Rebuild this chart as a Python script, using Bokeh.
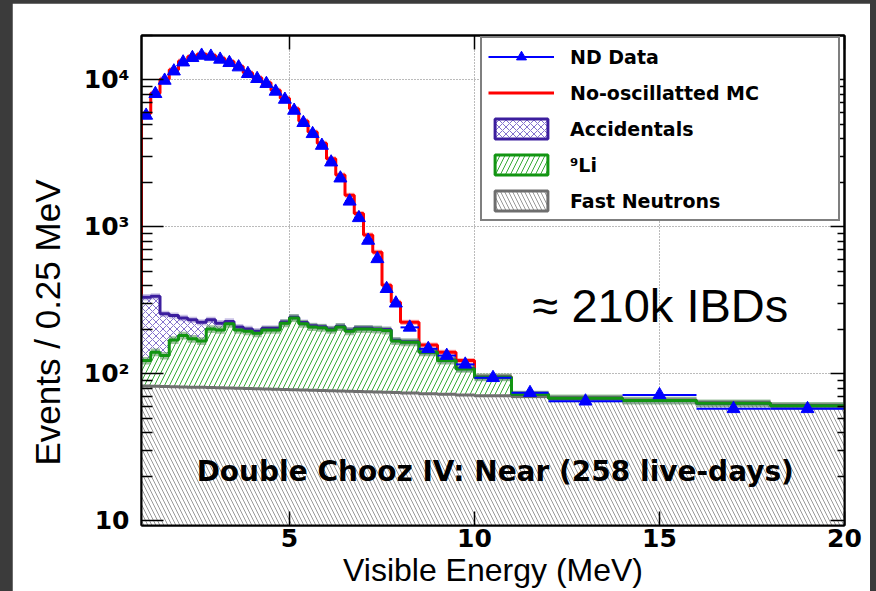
import numpy as np
from bokeh.plotting import figure
from bokeh.models import (FixedTicker, LogAxis, LinearAxis, Legend, LegendItem, Label, Title)
from bokeh.layouts import column
from bokeh.embed import file_html
from bokeh.resources import INLINE

# ---------------- data ----------------
bin_edges = [1.0, 1.25, 1.5, 1.75, 2.0, 2.25, 2.5, 2.75, 3.0, 3.25, 3.5, 3.75, 4.0,
             4.25, 4.5, 4.75, 5.0, 5.25, 5.5, 5.75, 6.0, 6.25, 6.5, 6.75, 7.0, 7.25,
             7.5, 7.75, 8.0, 8.5, 9.0, 9.5, 10.0, 11.0, 12.0, 14.0, 16.0, 18.0, 20.0]

nd_data = [5720, 8030, 9890, 11440, 13170, 14110, 14630, 14410, 13750, 13050,
           12190, 10990, 10160, 9400, 8330, 7340, 6180, 5100, 4290, 3570,
           2750, 2140, 1490, 1150, 807, 605, 379, 302,
           207, 148, 133, 116, 94, 74.3, 65.1, 71.9, 57.8, 57.8]

mc_noosc = [5900, 8100, 10100, 11700, 13400, 14400, 14900, 14700, 14000, 13300,
            12300, 11150, 10300, 9550, 8500, 7500, 6350, 5250, 4420, 3700,
            2900, 2250, 1640, 1230, 880, 670, 400, 307,
            224, 157, 140, 123, 95, 72.7, 68.2, 65.8, 63.1, 60.6]

fast_neutrons = [82.5, 82.2, 82.0, 81.7, 81.4, 81.2, 80.9, 80.6, 80.3, 80.0,
                 79.7, 79.4, 79.1, 78.8, 78.5, 78.2, 77.9, 77.6, 77.3, 77.0,
                 76.7, 76.4, 76.1, 75.8, 75.5, 75.2, 74.9, 74.6,
                 74.0, 73.3, 72.5, 71.8, 71.0, 70.2, 68.2, 65.8, 63.1, 60.6]

li9 = [40.5, 57.8, 51.0, 88.3, 100.6, 91.8, 86.1, 121.4, 118.7, 139.0,
       119.3, 115.6, 109.9, 120.2, 120.5, 142.8, 162.1, 141.4, 130.7, 129.0,
       122.3, 131.6, 118.9, 126.2, 126.5, 124.8, 122.1, 92.4,
       90.0, 66.7, 50.5, 36.2, 23.8, 2.3, 0.0, 0.0, 0.0, 0.0]

accidentals = [209, 197, 123, 79, 58, 60, 57, 31, 22, 8,
               9, 7, 6, 5, 5, 4, 3, 4, 4, 3,
               3, 3, 3, 3, 3, 2, 3, 2,
               1.5, 1, 1, 0.5, 0, 0, 0, 0, 0, 0]

mc_rel_err = 0.04
li_rel_err = 0.06
acc_rel_err = 0.05

x_major_ticks = [5, 10, 15, 20]
y_major_ticks = [10, 100, 1000, 10000]
y_tick_labels = ["10", "10²", "10³", "10⁴"]

x_title = "Visible Energy (MeV)"
y_title = "Events / 0.25 MeV"
legend_labels = ["ND Data", "No-oscillatted MC", "Accidentals", "⁹Li", "Fast Neutrons"]

# ---------------- derived ----------------
edges = np.array(bin_edges)
lo, hi = edges[:-1], edges[1:]
ctr = 0.5 * (lo + hi)
data = np.array(nd_data, dtype=float)
mc = np.array(mc_noosc, dtype=float)
fn = np.array(fast_neutrons, dtype=float)
li_top = fn + np.array(li9, dtype=float)
acc_top = li_top + np.array(accidentals, dtype=float)
FLOOR = 1.0

def stepy(v):
    return np.append(v, v[-1])

RED = "#ff0000"
BLUE = "#0000ff"
GREEN = "#129512"
PURPLE = "#3c1e9e"
GRAY = "#6e6e6e"
FN_HATCH = "#999999"
LI_HATCH = "#33aa33"
ACC_HATCH = "#8472cc"

p = figure(width=858, height=588, x_range=(1, 20), y_range=(9.3, 2.0e4),
           y_axis_type="log", output_backend="svg", toolbar_location=None,
           min_border_left=128, min_border_right=26, min_border_top=32,
           min_border_bottom=66, background_fill_color="white",
           border_fill_color="white")
p.margin = (3, 6, 0, 12)
p.outline_line_color = "black"
p.outline_line_width = 2

# axes
minor_y = [m * 10 ** k for k in range(1, 5) for m in range(2, 10)]
p.xaxis.ticker = FixedTicker(ticks=x_major_ticks, minor_ticks=[])
p.yaxis.ticker = FixedTicker(ticks=y_major_ticks, minor_ticks=minor_y)
p.yaxis.major_label_overrides = dict(zip(y_major_ticks, y_tick_labels))
for ax in (p.xaxis[0], p.yaxis[0]):
    ax.major_label_text_font = "DejaVu Sans"
    ax.major_label_text_font_style = "bold"
    ax.major_label_text_font_size = "25px"
    ax.major_label_text_color = "black"
    ax.axis_line_width = 2
    ax.major_tick_out = 0
    ax.minor_tick_out = 0
    ax.major_tick_line_color = "black"
    ax.minor_tick_line_color = "black"
    ax.major_tick_line_width = 1.5
    ax.minor_tick_line_width = 1.5
p.xaxis.major_tick_in = 14
p.xaxis.major_label_standoff = 3
p.yaxis.major_tick_in = 22
p.yaxis.minor_tick_in = 11
p.yaxis.major_label_standoff = 12

# mirrored tick marks on the right and top (no labels)
right_ax = LogAxis(ticker=FixedTicker(ticks=y_major_ticks, minor_ticks=minor_y),
                   major_label_text_font_size="1px", major_label_text_alpha=0.0,
                   major_label_standoff=0,
                   major_tick_in=14, major_tick_out=0,
                   minor_tick_in=7, minor_tick_out=0, axis_line_width=2,
                   major_tick_line_width=1.5, minor_tick_line_width=1.5)
p.add_layout(right_ax, "right")
top_ax = LinearAxis(ticker=FixedTicker(ticks=x_major_ticks, minor_ticks=[]),
                    major_label_text_font_size="1px", major_label_text_alpha=0.0,
                    major_label_standoff=0,
                    major_tick_in=14, major_tick_out=0,
                    axis_line_width=2, major_tick_line_width=1.5)
p.add_layout(top_ax, "above")

# axis titles
p.add_layout(Title(text=x_title, align="center", text_font="Liberation Sans",
                   text_font_style="normal", text_font_size="32px", text_color="black",
                   standoff=0), "below")
p.add_layout(Title(text=y_title, align="left", text_font="Liberation Sans",
                   text_font_style="normal", text_font_size="35px", text_color="black",
                   standoff=27, offset=60), "left")

p.xgrid.ticker = FixedTicker(ticks=x_major_ticks[:-1])
p.ygrid.ticker = FixedTicker(ticks=y_major_ticks)
for g in (p.xgrid[0], p.ygrid[0]):
    g.grid_line_color = "#777777"
    g.grid_line_dash = "1 2"
    g.grid_line_width = 1

# MC band and line (under the backgrounds)
p.varea_step(x=edges, y1=stepy(mc * (1 - mc_rel_err)), y2=stepy(mc * (1 + mc_rel_err)),
             step_mode="after", fill_color="#ff7070", fill_alpha=0.55)
mc_line = p.step(x=np.concatenate([[edges[0]], edges]),
                 y=np.concatenate([[FLOOR], mc, [mc[-1]]]),
                 mode="after", line_color=RED, line_width=3)

# stacked backgrounds
p.varea_step(x=edges, y1=np.full(len(edges), FLOOR), y2=stepy(fn), step_mode="after",
             fill_color="white", hatch_pattern="left_diagonal_line", hatch_color=FN_HATCH,
             hatch_scale=8, hatch_weight=1)
p.varea_step(x=edges, y1=stepy(fn), y2=stepy(li_top), step_mode="after",
             fill_color="white", hatch_pattern="right_diagonal_line", hatch_color=LI_HATCH,
             hatch_scale=10, hatch_weight=1)
p.varea_step(x=edges, y1=stepy(li_top), y2=stepy(acc_top), step_mode="after",
             fill_color="white", hatch_pattern="diagonal_cross", hatch_color=ACC_HATCH,
             hatch_scale=7, hatch_weight=1)

# uncertainty bands
p.varea_step(x=edges, y1=stepy(acc_top * (1 - acc_rel_err)), y2=stepy(acc_top * (1 + acc_rel_err)),
             step_mode="after", fill_color="#8a78c8", fill_alpha=0.45)
p.varea_step(x=edges, y1=stepy(li_top * (1 - li_rel_err)), y2=stepy(li_top * (1 + li_rel_err)),
             step_mode="after", fill_color="#3f8a3f", fill_alpha=0.5)

# outlines
p.step(x=edges, y=stepy(fn), mode="after", line_color=GRAY, line_width=3)
p.step(x=edges, y=stepy(acc_top), mode="after", line_color=PURPLE, line_width=3)
p.step(x=edges, y=stepy(li_top), mode="after", line_color=GREEN, line_width=3)

# data
p.segment(x0=lo, x1=hi, y0=data, y1=data, line_color=BLUE, line_width=2)
nd_pts = p.scatter(x=ctr, y=data, marker="triangle", size=13, fill_color=BLUE,
                   line_color=BLUE)

# legend proxies (placed outside the visible x range, only shown in the legend)
proxy_x = [-6.0, -5.0]
proxy_y = [2.0, 2.0]
nd_leg_line = p.line(x=proxy_x, y=proxy_y, line_color=BLUE, line_width=2)
acc_leg = p.quad(left=proxy_x[:1], right=proxy_x[1:], top=[3.0], bottom=[2.0], fill_color="white",
                 hatch_pattern="diagonal_cross", hatch_color=ACC_HATCH, hatch_scale=7,
                 line_color=PURPLE, line_width=3)
li_leg = p.quad(left=proxy_x[:1], right=proxy_x[1:], top=[3.0], bottom=[2.0], fill_color="white",
                hatch_pattern="right_diagonal_line", hatch_color=LI_HATCH, hatch_scale=10,
                line_color=GREEN, line_width=3)
fn_leg = p.quad(left=proxy_x[:1], right=proxy_x[1:], top=[3.0], bottom=[2.0], fill_color="white",
                hatch_pattern="left_diagonal_line", hatch_color=FN_HATCH, hatch_scale=8,
                line_color=GRAY, line_width=3)

legend = Legend(items=[
    LegendItem(label=legend_labels[0], renderers=[nd_leg_line, nd_pts]),
    LegendItem(label=legend_labels[1], renderers=[mc_line]),
    LegendItem(label=legend_labels[2], renderers=[acc_leg]),
    LegendItem(label=legend_labels[3], renderers=[li_leg]),
    LegendItem(label=legend_labels[4], renderers=[fn_leg]),
], location=(339, 304), orientation="vertical")
legend.padding = 6
legend.margin = 0
legend.spacing = 11
legend.glyph_width = 66
legend.glyph_height = 25
legend.label_standoff = 16
legend.label_width = 262
legend.label_text_font = "DejaVu Sans"
legend.label_text_font_style = "bold"
legend.label_text_font_size = "19px"
legend.label_text_color = "black"
legend.border_line_color = "black"
legend.border_line_width = 2
legend.background_fill_color = "white"
legend.background_fill_alpha = 1.0
p.add_layout(legend)

# in-plot texts
p.add_layout(Label(x=11.57, y=290, text="≈ 210k IBDs", text_font="Liberation Sans",
                   text_font_size="47px", text_color="black", text_baseline="middle"))
p.add_layout(Label(x=2.49, y=21.5, text="Double Chooz IV: Near (258 live-days)",
                   text_font="DejaVu Sans", text_font_style="bold", text_font_size="28px",
                   text_color="black", text_baseline="middle"))

layout = column(p, styles={"background-color": "#3b3b3b"})
open("out.html", "w").write(file_html(layout, INLINE))
